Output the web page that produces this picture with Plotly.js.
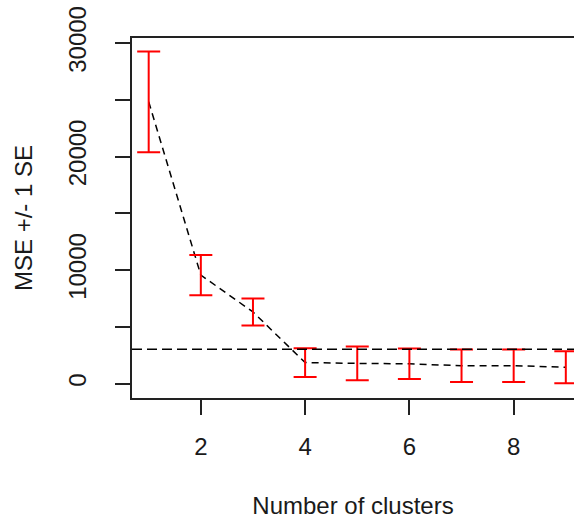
<!DOCTYPE html>
<html>
<head>
<meta charset="utf-8">
<script src="https://cdn.plot.ly/plotly-3.0.1.min.js"></script>
<style>html,body{margin:0;padding:0;background:#fff;}#chart{width:574px;height:519px;}</style>
</head>
<body>
<div id="chart"></div>
<script>
// Data
var clusters = [1, 2, 3, 4, 5, 6, 7, 8, 9];
var mse = [24820, 9555, 6310, 1850, 1780, 1740, 1575, 1575, 1440];
var se = [4440, 1765, 1190, 1265, 1485, 1340, 1425, 1425, 1410];
var threshold = 3030;
var yTickVals = [0, 5000, 10000, 15000, 20000, 25000, 30000];
var yTickText = ['0', '', '10000', '', '20000', '', '30000'];
var xTickVals = [2, 4, 6, 8];
var xTickText = ['2', '4', '6', '8'];

var font = 'Liberation Sans, Arial, sans-serif';
var ink = '#1a1a1a';

var lineTrace = {
  x: clusters, y: mse, type: 'scatter', mode: 'lines',
  line: {color: '#000', width: 1.5, dash: '7px,5px'},
  hoverinfo: 'skip', showlegend: false
};
var errTrace = {
  x: clusters, y: mse, type: 'scatter', mode: 'markers',
  marker: {color: 'rgba(0,0,0,0)', size: 1},
  error_y: {type: 'data', array: se, visible: true, color: '#ff0000', thickness: 2, width: 11.5},
  showlegend: false
};

var layout = {
  width: 574, height: 519,
  margin: {l: 132, r: 0, t: 38, b: 121},
  paper_bgcolor: '#fff', plot_bgcolor: '#fff',
  font: {family: font, size: 24, color: ink},
  showlegend: false,
  xaxis: {
    range: [0.68, 9.157], showgrid: false, zeroline: false,
    showline: true, mirror: true, linecolor: '#222', linewidth: 2,
    ticks: 'outside', ticklen: 15, tickwidth: 2, tickcolor: '#222',
    tickvals: xTickVals, ticktext: xTickText, ticklabelstandoff: 11,
    tickfont: {family: font, size: 24, color: ink},
    title: {text: 'Number of clusters', font: {family: font, size: 24, color: ink}, standoff: 47}
  },
  yaxis: {
    range: [-1270, 30441], showgrid: false, zeroline: false,
    showline: true, linecolor: '#222', linewidth: 2,
    ticks: 'outside', ticklen: 15, tickwidth: 2, tickcolor: '#222',
    tickvals: yTickVals, ticktext: yTickText, tickangle: -90, ticklabelstandoff: 19,
    tickfont: {family: font, size: 24, color: ink},
    title: {text: 'MSE +/- 1 SE', font: {family: font, size: 24, color: ink}, standoff: 25}
  },
  shapes: [{
    type: 'line', xref: 'paper', x0: 0, x1: 1, yref: 'y', y0: threshold, y1: threshold,
    line: {color: '#000', width: 1.5, dash: '10px,5px'}
  }]
};

Plotly.newPlot('chart', [lineTrace, errTrace], layout, {displayModeBar: false, staticPlot: true});
</script>
</body>
</html>
